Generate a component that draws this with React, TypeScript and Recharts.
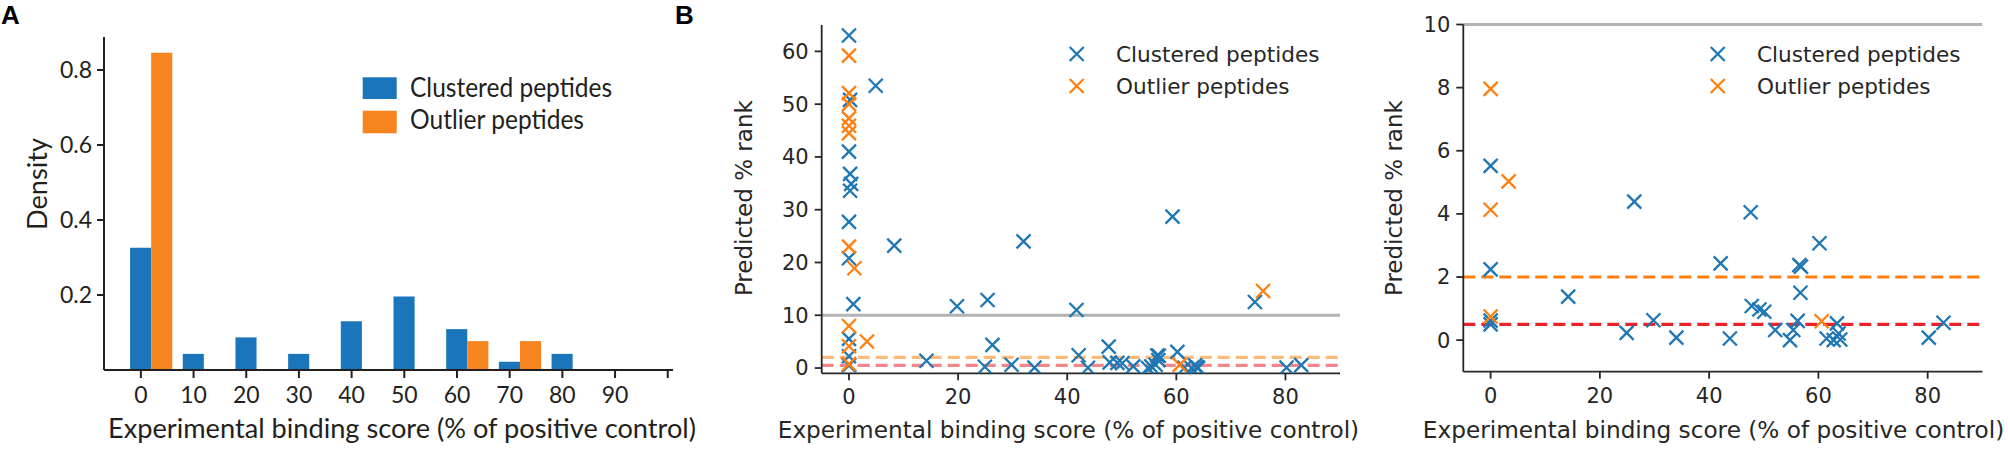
import { Bar, ComposedChart, Label, Legend, ReferenceLine, Scatter, ScatterChart, XAxis, YAxis } from 'recharts'

// Panel A: density histogram, bins 10 wide centred at 2, 12, ...
const binCenters = [2, 12, 22, 32, 42, 52, 62, 72, 82]
const clusteredDensity = [0.326, 0.043, 0.087, 0.043, 0.13, 0.196, 0.109, 0.022, 0.043]
const outlierDensity = [0.846, 0, 0, 0, 0, 0, 0.077, 0.077, 0]
const histXTicks = [0, 10, 20, 30, 40, 50, 60, 70, 80, 90, 100]
const histYTicks = [0.2, 0.4, 0.6, 0.8]

// Panel B: [experimental binding score, predicted % rank]
const clusteredPoints = [
  [0, 63.0], [0.2, 50.8], [0, 41.0], [0.2, 36.8], [0.4, 34.9], [0.2, 33.6], [0, 27.7], [0, 20.8],
  [0.8, 12.1], [0, 5.52], [0, 2.24], [0, 0.62], [0, 0.5], [4.9, 53.5], [8.3, 23.2], [14.2, 1.38],
  [19.8, 11.7], [24.9, 0.23], [25.4, 12.9], [26.3, 4.39], [29.8, 0.63], [32.0, 24.0], [34.0, 0.08],
  [41.7, 11.0], [42.1, 2.43], [43.8, 0.05], [47.6, 4.05], [47.8, 1.08], [49.2, 0.97], [50.1, 0.9],
  [52.1, 0.32], [54.8, 0.0], [55.4, 0.32], [56.2, 0.61], [56.5, 2.38], [56.8, 2.33], [56.7, 1.5],
  [59.3, 28.7], [60.2, 3.07], [61.5, 0.05], [62.8, 0.0], [63.4, 0.53], [63.7, 0.21], [64.0, 0.02],
  [74.4, 12.5], [80.2, 0.08], [82.9, 0.55],
]
const outlierPoints = [
  [0, 59.2], [0, 52.1], [0, 50.0], [0, 47.3], [0, 45.9], [0, 44.5], [0, 23.0], [1.0, 18.9],
  [0, 7.96], [3.3, 5.03], [0, 4.13], [0, 0.75], [60.6, 0.6], [75.9, 14.6],
]
const scatterXTicks = [0, 20, 40, 60, 80]
const fullYTicks = [0, 10, 20, 30, 40, 50, 60]
const zoomYTicks = [0, 2, 4, 6, 8, 10]
const legendLabels = ['Clustered peptides', 'Outlier peptides']
const xTitle = 'Experimental binding score (% of positive control)'

const BLUE = '#1f77b4'
const ORANGE = '#ff7f0e'
const HIST_BLUE = '#1b75bb'
const HIST_ORANGE = '#f6851f'
const INK_A = '#231f20'
const INK_B = '#262626'

const fontA = { fontFamily: 'Lato, sans-serif' }
const fontB = { fontFamily: '"DejaVu Sans", sans-serif' }

const histRows = binCenters.map((bin, i) => ({ bin, clustered: clusteredDensity[i], outlier: outlierDensity[i] }))
const toXY = (pts: number[][]) => pts.map(([x, y]) => ({ x, y }))
const clusteredData = toXY(clusteredPoints)
const outlierData = toXY(outlierPoints)

function XMark({ cx, cy, color }: { cx: number; cy: number; color: string }) {
  const r = 7
  return (
    <path
      d={`M${cx - r},${cy - r}L${cx + r},${cy + r}M${cx - r},${cy + r}L${cx + r},${cy - r}`}
      stroke={color}
      strokeWidth={2.3}
      fill="none"
    />
  )
}

// panel A was set in a narrower face than anything installed, so its texts get squeezed to the original widths
const fit = (len?: number) => (len ? { textLength: len, lengthAdjust: 'spacingAndGlyphs' as const } : {})

// axis titles placed relative to the axis box recharts hands to the label
const bottomTitle = (text: string, dx: number, baseline: number, style: any, len?: number) => (props: any) => {
  const vb = props.viewBox || { x: 0, y: 0, width: 0 }
  return (
    <text x={vb.x + vb.width / 2 + dx} y={vb.y + baseline} textAnchor="middle" style={style} {...fit(len)}>
      {text}
    </text>
  )
}
const sideTitle = (text: string, dist: number, dy: number, style: any, len?: number) => (props: any) => {
  const vb = props.viewBox || { x: 0, y: 0, width: 0, height: 0 }
  const x = vb.x + vb.width - dist
  const y = vb.y + vb.height / 2 + dy
  return (
    <text x={x} y={y} transform={`rotate(-90 ${x} ${y})`} textAnchor="middle" style={style} {...fit(len)}>
      {text}
    </text>
  )
}

function HistLegend() {
  return (
    <svg width={300} height={70} style={{ display: 'block', overflow: 'visible' }}>
      <rect x={0.7} y={2.3} width={34} height={21.7} fill={HIST_BLUE} />
      <rect x={0.7} y={35.7} width={34} height={22.6} fill={HIST_ORANGE} />
      <text x={48} y={22.3} style={{ ...fontA, fontSize: 26 }} fill={INK_A} {...fit(202)}>{legendLabels[0]}</text>
      <text x={48} y={54.3} style={{ ...fontA, fontSize: 26 }} fill={INK_A} {...fit(174)}>{legendLabels[1]}</text>
    </svg>
  )
}

function ScatterLegend() {
  return (
    <svg width={280} height={80} style={{ display: 'block', overflow: 'visible' }}>
      <XMark cx={16.7} cy={24} color={BLUE} />
      <XMark cx={16.7} cy={56} color={ORANGE} />
      <text x={56} y={32.3} style={{ ...fontB, fontSize: 21.6 }} fill={INK_B}>{legendLabels[0]}</text>
      <text x={56} y={64} style={{ ...fontB, fontSize: 21.6 }} fill={INK_B}>{legendLabels[1]}</text>
    </svg>
  )
}

const axisB = { stroke: INK_B, strokeWidth: 1.8 }
const tickB = { ...fontB, fontSize: 21, fill: INK_B }

function RankPanel({ zoomed }: { zoomed: boolean }) {
  const width = zoomed ? 638 : 670
  const margin = zoomed
    ? { top: 24.5, right: 25.7, bottom: 28.3, left: 33.3 }
    : { top: 25, right: 30, bottom: 26.7, left: 41.7 }
  const dashAlpha = zoomed ? 1 : 0.55
  return (
    <ScatterChart width={width} height={450} margin={margin}>
      <XAxis
        type="number"
        dataKey="x"
        domain={[-5, 90]}
        ticks={scatterXTicks}
        allowDataOverflow
        height={50}
        tick={tickB}
        tickSize={7}
        tickMargin={9}
        axisLine={axisB}
        tickLine={axisB}
      >
        <Label content={bottomTitle(xTitle, zoomed ? -9.3 : -12.4, zoomed ? 66 : 64.4, { ...fontB, fontSize: 23.2, fill: INK_B })} />
      </XAxis>
      <YAxis
        type="number"
        dataKey="y"
        domain={zoomed ? [-1, 10] : [-1, 65]}
        ticks={zoomed ? zoomYTicks : fullYTicks}
        allowDataOverflow
        width={zoomed ? 60 : 80}
        tick={tickB}
        tickSize={7}
        tickMargin={6}
        axisLine={axisB}
        tickLine={axisB}
      >
        <Label content={sideTitle('Predicted % rank', zoomed ? 61.6 : 69.2, zoomed ? 0 : -1, { ...fontB, fontSize: 23, fill: INK_B })} />
      </YAxis>
      <ReferenceLine y={10} stroke="#b3b3b3" strokeWidth={3} />
      <ReferenceLine y={2} stroke={ORANGE} strokeOpacity={dashAlpha} strokeWidth={3.2} strokeDasharray="12 6" />
      <ReferenceLine y={0.5} stroke="#e8232b" strokeOpacity={dashAlpha} strokeWidth={3.2} strokeDasharray="12 6" />
      <Scatter data={clusteredData} isAnimationActive={false} shape={(p: any) => <XMark cx={p.cx} cy={p.cy} color={BLUE} />} />
      <Scatter data={outlierData} isAnimationActive={false} shape={(p: any) => <XMark cx={p.cx} cy={p.cy} color={ORANGE} />} />
      <Legend
        layout="vertical"
        align="center"
        verticalAlign="middle"
        content={() => <ScatterLegend />}
        wrapperStyle={{ left: zoomed ? 331 : 360, top: 30, width: 280, height: 80 }}
      />
    </ScatterChart>
  )
}

export default function App() {
  return (
    <div style={{ position: 'absolute', left: 0, top: 0, width: 2008, height: 450, background: '#fff' }}>
      <div style={{ position: 'absolute', left: 0, top: 0 }}>
        <ComposedChart width={700} height={450} data={histRows} margin={{ top: 37, right: 27, bottom: 30, left: 40 }} barGap={0}>
          <XAxis
            type="number"
            dataKey="bin"
            domain={[-7, 101]}
            ticks={histXTicks}
            tickFormatter={(v: number) => (v === 100 ? '' : String(v))}
            allowDataOverflow
            height={50}
            tick={{ ...fontA, fontSize: 23, fill: INK_A }}
            tickSize={8}
            tickMargin={9}
            axisLine={{ stroke: INK_A, strokeWidth: 2 }}
            tickLine={{ stroke: INK_A, strokeWidth: 2 }}
          >
            <Label content={bottomTitle(xTitle, 13.5, 68.3, { ...fontA, fontSize: 27, fill: INK_A }, 588)} />
          </XAxis>
          <YAxis
            type="number"
            domain={[0, 0.888]}
            ticks={histYTicks}
            tickFormatter={(v: number) => v.toFixed(1)}
            allowDataOverflow
            width={64}
            tick={{ ...fontA, fontSize: 23, fill: INK_A }}
            tickSize={7}
            tickMargin={5}
            axisLine={{ stroke: INK_A, strokeWidth: 2 }}
            tickLine={{ stroke: INK_A, strokeWidth: 2 }}
          >
            <Label content={sideTitle('Density', 57.4, -19.5, { ...fontA, fontSize: 27, fill: INK_A }, 92)} />
          </YAxis>
          <Bar dataKey="clustered" fill={HIST_BLUE} barSize={21.1} isAnimationActive={false} />
          <Bar dataKey="outlier" fill={HIST_ORANGE} barSize={21.1} isAnimationActive={false} />
          <Legend
            layout="vertical"
            align="center"
            verticalAlign="middle"
            content={() => <HistLegend />}
            wrapperStyle={{ left: 362, top: 75, width: 300, height: 70 }}
          />
        </ComposedChart>
      </div>
      <div style={{ position: 'absolute', left: 700, top: 0 }}>
        <RankPanel zoomed={false} />
      </div>
      <div style={{ position: 'absolute', left: 1370, top: 0 }}>
        <RankPanel zoomed={true} />
      </div>
      <svg width={2008} height={450} style={{ position: 'absolute', left: 0, top: 0, pointerEvents: 'none' }}>
        <text x={1} y={24} style={{ fontFamily: '"Liberation Sans", Arial, sans-serif', fontWeight: 700, fontSize: 26 }} fill="#000">A</text>
        <text x={675} y={24} style={{ fontFamily: '"Liberation Sans", Arial, sans-serif', fontWeight: 700, fontSize: 26 }} fill="#000">B</text>
      </svg>
    </div>
  )
}
